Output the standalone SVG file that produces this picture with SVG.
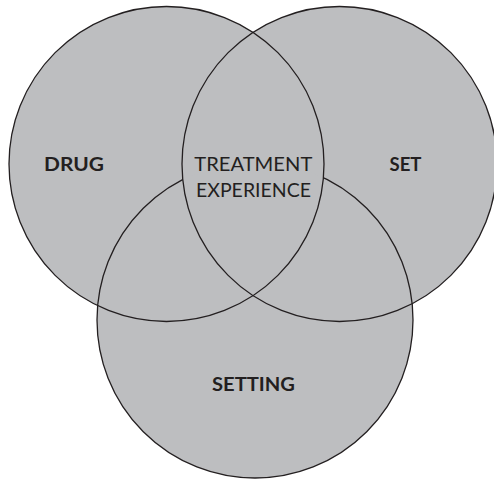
<svg xmlns="http://www.w3.org/2000/svg" width="494" height="482" viewBox="0 0 494 482">
  <style>
    .disc { fill: #bdbec0; stroke: none; }
    .ring { fill: none; stroke: #231f20; stroke-width: 1.3; }
    .label { font-family: "Lato", "Open Sans", "Liberation Sans", sans-serif; fill: #231f20; text-anchor: middle; }
    .bold { font-weight: bold; font-size: 19.5px; }
    .core { font-weight: normal; font-size: 19px; }
  </style>
  <defs>
    <clipPath id="inSet">
      <circle cx="339.5" cy="164" r="157.5"/>
    </clipPath>
    <!-- hides the Setting outline inside the Drug/Set lens -->
    <mask id="hideLens" maskUnits="userSpaceOnUse" x="0" y="0" width="494" height="482">
      <rect x="0" y="0" width="494" height="482" fill="#fff"/>
      <circle cx="166.5" cy="164" r="157.5" fill="#000" clip-path="url(#inSet)"/>
    </mask>
  </defs>
  <rect width="494" height="482" fill="#ffffff"/>

  <!-- fills -->
  <circle class="disc" cx="166.5" cy="164" r="157.5"/>
  <circle class="disc" cx="339.5" cy="164" r="157.5"/>
  <circle class="disc" cx="255" cy="320" r="158"/>

  <g id="setting">
    <circle class="ring" cx="255" cy="320" r="158" mask="url(#hideLens)"/>
    <text class="label bold" x="253.5" y="391" textLength="83" lengthAdjust="spacingAndGlyphs">SETTING</text>
  </g>
  <g id="drug">
    <circle class="ring" cx="166.5" cy="164" r="157.5"/>
    <text class="label bold" x="74" y="171" textLength="60" lengthAdjust="spacingAndGlyphs">DRUG</text>
  </g>
  <g id="set">
    <circle class="ring" cx="339.5" cy="164" r="157.5"/>
    <text class="label bold" x="405.5" y="171" textLength="32" lengthAdjust="spacingAndGlyphs">SET</text>
  </g>
  <g id="treatment-experience">
    <text class="label core" x="253.3" y="170.5" textLength="118" lengthAdjust="spacingAndGlyphs">TREATMENT</text>
    <text class="label core" x="253.5" y="197" textLength="115" lengthAdjust="spacingAndGlyphs">EXPERIENCE</text>
  </g>
</svg>
